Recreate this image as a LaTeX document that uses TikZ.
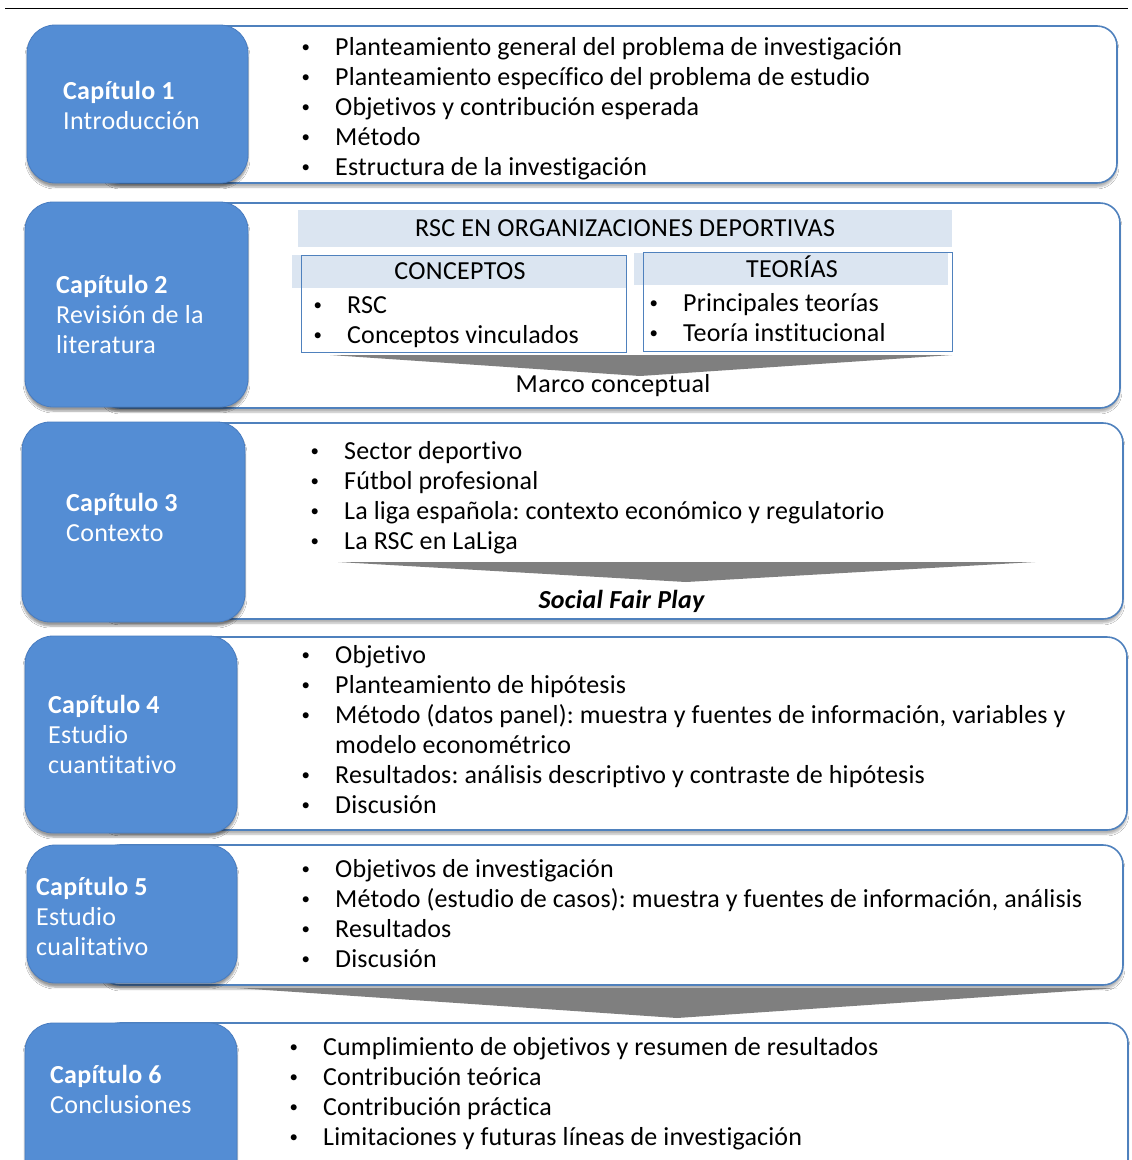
\documentclass[tikz,border=0pt]{standalone}
\usepackage{fontspec}
\setmainfont{Carlito}[Ligatures={NoCommon}]
\usetikzlibrary{shadows.blur}
\frenchspacing
\definecolor{chapblue}{RGB}{84,141,212}
\definecolor{chapedge}{RGB}{72,124,192}
\definecolor{boxline}{RGB}{79,129,189}
\definecolor{bandblue}{RGB}{219,229,241}
\definecolor{arrowgray}{RGB}{127,127,127}
\newcommand\bu{\makebox[36pt][l]{\hspace{2.5pt}\raisebox{3.2pt}{\scalebox{0.65}{\textbullet}}}}
\newcommand\ind{\hspace*{36pt}}
\tikzset{
  chapbox/.style={fill=chapblue, draw=chapedge, line width=0.8pt, rounded corners=28pt,
    blur shadow={shadow xshift=0pt, shadow yshift=-4pt, shadow opacity=40, shadow blur steps=6}},
  contbox/.style={fill=white, draw=boxline, line width=1.6pt, rounded corners=20pt,
    blur shadow={shadow xshift=0pt, shadow yshift=-4pt, shadow opacity=30, shadow blur steps=6}},
  band/.style={fill=bandblue, draw=none},
  inbox/.style={draw=boxline, line width=1pt},
  flow/.style={fill=arrowgray, draw=none},
  list/.style={anchor=north west, inner sep=0pt, font=\fontsize{26}{30}\selectfont\addfontfeature{LetterSpace=0.6}, text=black},
  chaptxt/.style={anchor=north west, inner sep=0pt, font=\fontsize{26}{30}\selectfont\addfontfeature{LetterSpace=1}, text=white},
  lbl/.style={anchor=base, inner sep=0pt, font=\fontsize{26}{30}\selectfont\addfontfeature{LetterSpace=1.2}, text=black},
}
\begin{document}
\begin{tikzpicture}[x=1pt, y=-1pt]
\useasboundingbox (0,0) rectangle (1132,1160);
\clip (0,0) rectangle (1132,1160);
\fill[white] (0,0) rectangle (1132,1160);
\draw[black, line width=1pt] (5,8) -- (1128,8);

% content boxes
\path[contbox] (100,26) rectangle (1117,183);
\path[contbox] (100,203) rectangle (1120,408);
\path[contbox] (100,423) rectangle (1123,619);
\path[contbox] (100,637) rectangle (1127,830);
\path[contbox] (100,845) rectangle (1123,985);
\path[contbox] (100,1023) rectangle (1128,1220);

% chapter boxes
\path[chapbox] (27,25) rectangle (248,183);
\path[chapbox] (25,202) rectangle (248,407);
\path[chapbox] (22,422) rectangle (245,622);
\path[chapbox] (25,636) rectangle (237,833);
\path[chapbox] (27,845) rectangle (237,983);
\path[chapbox] (25,1023) rectangle (237,1220);

% chapter labels
\node[chaptxt] (c1) at (63,78) {\begin{tabular}{@{}l@{}}\textbf{Capítulo 1}\\Introducción\end{tabular}};
\node[chaptxt] (c2) at (56,272) {\begin{tabular}{@{}l@{}}\textbf{Capítulo 2}\\Revisión de la\\literatura\end{tabular}};
\node[chaptxt] (c3) at (66,490) {\begin{tabular}{@{}l@{}}\textbf{Capítulo 3}\\Contexto\end{tabular}};
\node[chaptxt] (c4) at (48,692) {\begin{tabular}{@{}l@{}}\textbf{Capítulo 4}\\Estudio\\cuantitativo\end{tabular}};
\node[chaptxt] (c5) at (36,874) {\begin{tabular}{@{}l@{}}\textbf{Capítulo 5}\\Estudio\\cualitativo\end{tabular}};
\node[chaptxt] (c6) at (50,1062) {\begin{tabular}{@{}l@{}}\textbf{Capítulo 6}\\Conclusiones\end{tabular}};

% chapter 1 list
\node[list] (l1) at (299,34) {\begin{tabular}{@{}l@{}}
\bu Planteamiento general del problema de investigación\\
\bu Planteamiento específico del problema de estudio\\
\bu Objetivos y contribución esperada\\
\bu Método\\
\bu Estructura de la investigación\end{tabular}};

% chapter 2 content
\path[band] (298,210) rectangle (952,247);
\node[lbl] (rsc) at (625,236) {RSC EN ORGANIZACIONES DEPORTIVAS};
\path[band] (292,255) rectangle (626,288);
\path[band] (634,253) rectangle (948,285);
\node[inbox, anchor=north west, minimum width=325pt, minimum height=97pt, inner sep=0pt] (conc) at (301,255) {};
\node[inbox, anchor=north west, minimum width=309pt, minimum height=99pt, inner sep=0pt] (teor) at (643,252) {};
\node[lbl] (conch) at (460,279) {CONCEPTOS};
\node[lbl] (teorh) at (792,277) {TEORÍAS};
\node[list] (l2a) at (311,292) {\begin{tabular}{@{}l@{}}
\bu RSC\\
\bu Conceptos vinculados\end{tabular}};
\node[list] (l2b) at (647,290) {\begin{tabular}{@{}l@{}}
\bu Principales teorías\\
\bu Teoría institucional\end{tabular}};
\path[flow] (330,355) -- (952,355) -- (640,376) -- cycle;
\node[lbl] (marco) at (613,392) {Marco conceptual};

% chapter 3 list
\node[list] (l3) at (308,438) {\begin{tabular}{@{}l@{}}
\bu Sector deportivo\\
\bu Fútbol profesional\\
\bu La liga española: contexto económico y regulatorio\\
\bu La RSC en LaLiga\end{tabular}};
\path[flow] (338,562) -- (1035,562) -- (686,582) -- cycle;
\node[lbl] (sfp) at (622,608) {\textbf{\textit{Social Fair Play}}};

% chapter 4 list
\node[list] (l4) at (299,642) {\begin{tabular}{@{}l@{}}
\bu Objetivo\\
\bu Planteamiento de hipótesis\\
\bu Método (datos panel): muestra y fuentes de información, variables y\\
\ind modelo econométrico\\
\bu Resultados: análisis descriptivo y contraste de hipótesis\\
\bu Discusión\end{tabular}};

% chapter 5 list
\node[list] (l5) at (299,856) {\begin{tabular}{@{}l@{}}
\bu Objetivos de investigación\\
\bu Método (estudio de casos): muestra y fuentes de información, análisis\\
\bu Resultados\\
\bu Discusión\end{tabular}};
\path[flow] (237,988) -- (1117,988) -- (677,1018) -- cycle;

% chapter 6 list
\node[list] (l6) at (287,1034) {\begin{tabular}{@{}l@{}}
\bu Cumplimiento de objetivos y resumen de resultados\\
\bu Contribución teórica\\
\bu Contribución práctica\\
\bu Limitaciones y futuras líneas de investigación\end{tabular}};
\end{tikzpicture}
\end{document}
